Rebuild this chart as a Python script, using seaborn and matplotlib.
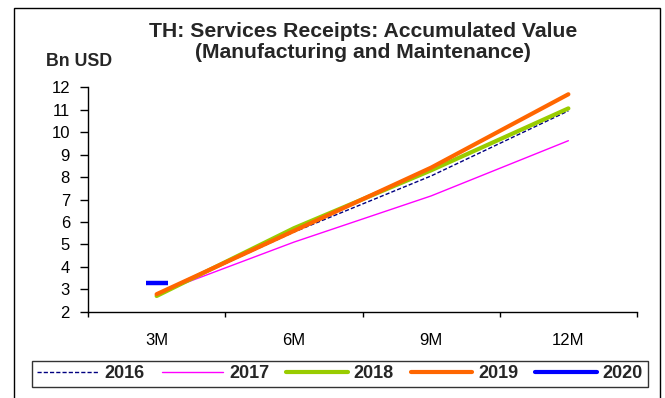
import matplotlib
matplotlib.use("Agg")
import matplotlib.pyplot as plt
from matplotlib.lines import Line2D
from matplotlib.patches import Rectangle
import seaborn as sns
import pandas as pd

# Accumulated receipts, Bn USD, by quarter-end
periods = ["3M", "6M", "9M", "12M"]
y2016 = [2.75, 5.55, 8.05, 10.95]
y2017 = [2.80, 5.10, 7.16, 9.62]
y2018 = [2.70, 5.72, 8.30, 11.06]
y2019 = [2.78, 5.60, 8.42, 11.69]
y2020 = [3.30]

years = ["2016", "2017", "2018", "2019", "2020"]
series = [y2016, y2017, y2018, y2019, y2020]

styles = {
    "2016": dict(color="#000080", lw=1.0, ls=(0, (3, 1.5))),
    "2017": dict(color="#FF00FF", lw=1.0, ls="-"),
    "2018": dict(color="#99CC00", lw=3.0, ls="-"),
    "2019": dict(color="#FF6600", lw=3.0, ls="-"),
    "2020": dict(color="#0000FF", lw=3.0, ls="-"),
}

rows = []
for yr, vals in zip(years, series):
    for i, v in enumerate(vals):
        rows.append({"year": yr, "pos": i, "value": v})
df = pd.DataFrame(rows)

sns.set_theme(style="ticks")
plt.rcParams["font.family"] = ["Liberation Sans", "DejaVu Sans"]

fig = plt.figure(figsize=(6.65, 3.98), dpi=100)
fig.patch.set_facecolor("white")
ax = fig.add_axes([88 / 665, 1 - 311.7 / 398, (637 - 88) / 665, (311.7 - 87.3) / 398])
ax.set_facecolor("white")

for yr in years[:4]:
    st = styles[yr]
    sub = df[df["year"] == yr]
    sns.lineplot(data=sub, x="pos", y="value", ax=ax, color=st["color"],
                 linewidth=st["lw"], linestyle=st["ls"], legend=False,
                 solid_capstyle="round", zorder=2)

# single observation for 2020 shown as a short horizontal bar
sub = df[df["year"] == "2020"]
sns.scatterplot(data=sub, x="pos", y="value", ax=ax, color=styles["2020"]["color"],
                marker="_", s=256, linewidth=3.2, legend=False, zorder=3)

ax.set_xlim(-0.5, 3.5)
ax.set_ylim(2, 12)
ax.set_yticks(range(2, 13))
ax.set_xticks([-0.5, 0.5, 1.5, 2.5, 3.5])
ax.set_xticklabels([])
ax.set_xticks(range(4), minor=True)
ax.set_xticklabels(periods, minor=True)
ax.tick_params(axis="x", which="minor", bottom=False, length=0, pad=15, labelsize=12, colors="black")
ax.tick_params(axis="x", which="major", bottom=True, length=3.5, width=1, direction="out", colors="black")
ax.tick_params(axis="y", left=True, length=6, width=1, direction="out", labelsize=12, pad=7, colors="black")
ax.set_xlabel("")
ax.set_ylabel("")
for s in ["top", "right"]:
    ax.spines[s].set_visible(False)
for s in ["left", "bottom"]:
    ax.spines[s].set_color("black")
    ax.spines[s].set_linewidth(1)

fig.text(363 / 665, 1 - 22 / 398, "TH: Services Receipts: Accumulated Value\n(Manufacturing and Maintenance)",
         ha="center", va="top", fontsize=15.2, fontweight="bold", linespacing=1.15)
fig.text(46 / 665, 1 - 61 / 398, "Bn USD", ha="left", va="center", fontsize=12.8, fontweight="bold")

# outer chart frame
fig.patches.append(Rectangle((14 / 665, -0.01), (660 - 14) / 665, 1 - 7.5 / 398 + 0.01,
                             transform=fig.transFigure, fill=False, edgecolor="black",
                             linewidth=1.0))

handles = []
for yr in years:
    st = styles[yr]
    handles.append(Line2D([], [], color=st["color"], lw=st["lw"], ls=st["ls"],
                          solid_capstyle="round"))
leg = fig.legend(handles, years, loc="center", bbox_to_anchor=(340 / 665, 1 - 374 / 398),
                 ncol=5, frameon=True, fancybox=False, handlelength=3.4,
                 handletextpad=0.33, columnspacing=0.95, borderpad=0.25,
                 borderaxespad=0, prop={"weight": "bold", "size": 13})
leg.get_frame().set_edgecolor("black")
leg.get_frame().set_linewidth(1.0)

fig.savefig("out.png", dpi=100, facecolor="white")
